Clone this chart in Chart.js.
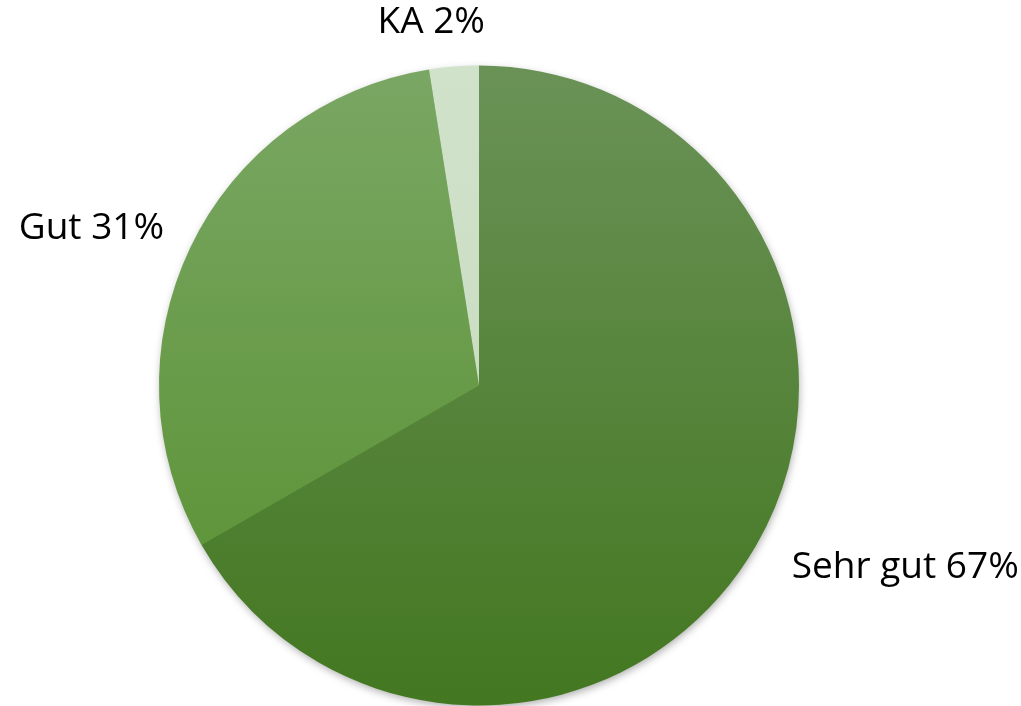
<!DOCTYPE html>
<html>
<head>
<meta charset="utf-8">
<script src="https://cdn.jsdelivr.net/npm/chart.js@4"></script>
<style>
html,body{margin:0;padding:0;background:#fff}
#wrap{width:1021px;height:706px}
</style>
</head>
<body>
<div id="wrap"><canvas id="pie"></canvas></div>
<script>
const categories = ["Sehr gut", "Gut", "KA"]
const shares = [66.7, 30.8, 2.5]
const pctLabels = ["67%", "31%", "2%"]

const topColors = ["#6a9257", "#7aa764", "#d0e2ca"]
const bottomColors = ["#437720", "#568f2d", "#c6dabd"]

// label placement outside the pie, per slice
const labelGap = [59, 37, 44]
const labelShiftX = [0, 0, -15]
const labelShiftY = [-8, -3, 0]

function sliceFill(context){
let chart = context.chart
let area = chart.chartArea
if(!area) return topColors[context.dataIndex]
let g = chart.ctx.createLinearGradient(0, area.top, 0, area.bottom)
g.addColorStop(0, topColors[context.dataIndex])
g.addColorStop(1, bottomColors[context.dataIndex])
return g
}

const pieShadow = {
id:"pieShadow",
beforeDatasetsDraw(chart){
let arc = chart.getDatasetMeta(0).data[0]
if(!arc) return
let c = chart.ctx
c.save()
c.shadowColor = "rgba(0,0,0,0.35)"
c.shadowBlur = 8
c.shadowOffsetX = 1
c.shadowOffsetY = 3
c.fillStyle = "#4f8530"
c.beginPath()
c.arc(arc.x, arc.y, arc.outerRadius - 1, 0, Math.PI*2)
c.fill()
c.restore()
}
}

const outsideLabels = {
id:"outsideLabels",
afterDatasetsDraw(chart){
let c = chart.ctx
let meta = chart.getDatasetMeta(0)
c.save()
c.font = "37px 'Open Sans'"
c.fillStyle = "#000"
c.textAlign = "center"
c.textBaseline = "middle"
meta.data.forEach(function(arc, i){
let p = arc.getProps(["x","y","startAngle","endAngle","outerRadius"], true)
let mid = (p.startAngle + p.endAngle) / 2
let dx = Math.cos(mid), dy = Math.sin(mid)
let r = p.outerRadius + labelGap[i]
let text = categories[i] + " " + pctLabels[i]
let w = c.measureText(text).width
let cx = p.x + dx*r + dx*w/2 + labelShiftX[i]
let cy = p.y + dy*r + labelShiftY[i]
c.fillText(text, cx, cy)
})
c.restore()
}
}

new Chart(document.getElementById("pie"),{
type:"pie",
data:{
labels:categories,
datasets:[{
data:shares,
backgroundColor:sliceFill,
borderWidth:0
}]
},
options:{
responsive:true,
maintainAspectRatio:false,
animation:false,
layout:{padding:{left:159, right:222, top:65, bottom:0}},
plugins:{
legend:{display:false},
tooltip:{enabled:false}
}
},
plugins:[pieShadow, outsideLabels]
})
</script>
</body>
</html>
